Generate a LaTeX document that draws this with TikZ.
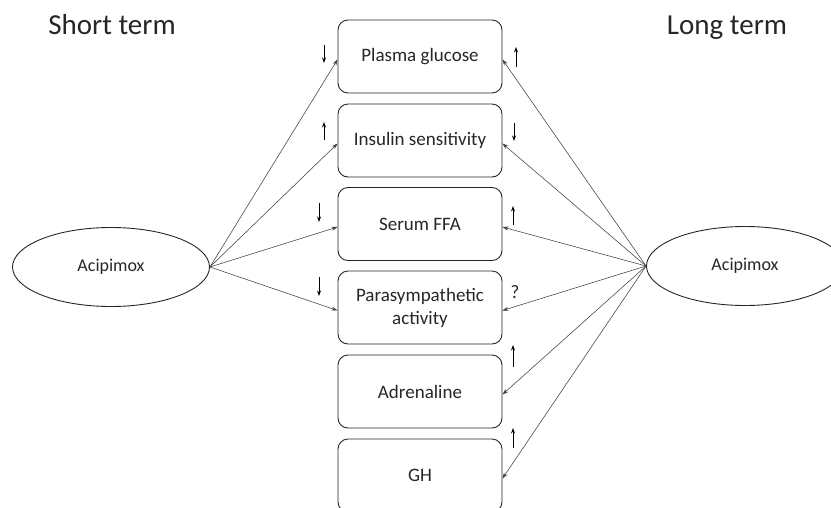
\documentclass[tikz,border=0pt]{standalone}
\usepackage{fontspec}
\setmainfont{Carlito}
\usetikzlibrary{arrows.meta,shapes.geometric}
\begin{document}
\begin{tikzpicture}[x=1pt,y=-1pt,
  box/.style={draw=black!85,line width=0.9pt,rounded corners=10pt,minimum width=164pt,minimum height=73pt,align=center,font=\fontsize{19}{23}\selectfont,text=black!85,inner sep=0pt},
  ell/.style={draw=black!85,line width=0.9pt,shape=ellipse,minimum width=197pt,minimum height=79pt,font=\fontsize{18}{22}\selectfont,text=black!85},
  conn/.style={draw=black!75,line width=0.55pt,-{Stealth[length=6pt,width=4pt]}},
  sym/.style={draw=black,line width=0.9pt,-{Stealth[length=5.5pt,width=4pt]}},
  head/.style={font=\fontsize{29}{34}\selectfont,text=black!85,inner sep=0pt,anchor=base}]
\useasboundingbox (0,0) rectangle (831,507);
\clip (0,0) rectangle (831,507);
\node[head] (st) at (112,34) {Short term};
\node[head] (lt) at (727,34) {Long term};
\node[box] (pg) at (420,56.5) {Plasma glucose};
\node[box] (is) at (420,140.5) {Insulin sensitivity};
\node[box] (ffa) at (420,224) {Serum FFA};
\node[box] (pa) at (420,307.5) {Parasympathetic\\activity};
\node[box] (ad) at (420,391.5) {Adrenaline};
\node[box] (gh) at (420,475.5) {GH};
\node[ell] (la) at (111,267) {Acipimox};
\node[ell] (ra) at (745,266) {Acipimox};
\foreach \n in {pg,is,ffa,pa} \draw[conn] (la.east) -- ([yshift=-3pt]\n.west);
\foreach \n in {pg,is,ffa,pa,ad,gh} \draw[conn] (ra.west) -- ([yshift=-3pt]\n.east);
% direction symbols
\coordinate (a1) at (324,45); \coordinate (a2) at (324,63); \draw[sym] (a1) -- (a2);
\coordinate (b1) at (324,140); \coordinate (b2) at (324,122); \draw[sym] (b1) -- (b2);
\coordinate (c1) at (319,203); \coordinate (c2) at (319,222); \draw[sym] (c1) -- (c2);
\coordinate (d1) at (319,277); \coordinate (d2) at (319,296); \draw[sym] (d1) -- (d2);
\coordinate (e1) at (516,67); \coordinate (e2) at (516,47); \draw[sym] (e1) -- (e2);
\coordinate (f1) at (514,123); \coordinate (f2) at (514,141); \draw[sym] (f1) -- (f2);
\coordinate (g1) at (513,225); \coordinate (g2) at (513,206); \draw[sym] (g1) -- (g2);
\coordinate (h1) at (513,367); \coordinate (h2) at (513,345); \draw[sym] (h1) -- (h2);
\coordinate (i1) at (513,448); \coordinate (i2) at (513,428); \draw[sym] (i1) -- (i2);
\node[font=\fontsize{19}{23}\selectfont,text=black!85,inner sep=0pt] (q) at (515,292) {?};
\end{tikzpicture}
\end{document}
